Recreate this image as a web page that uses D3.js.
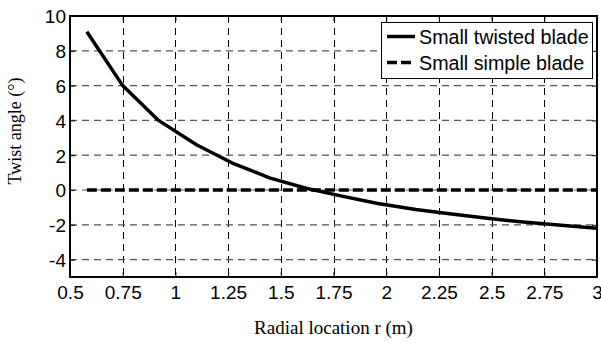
<!DOCTYPE html>
<html><head><meta charset="utf-8">
<script src="https://cdn.jsdelivr.net/npm/d3@7"></script>
<style>
html,body{margin:0;padding:0;background:#fff;}
svg{display:block;}
</style></head>
<body>
<script>
const radius = [0.58, 0.75, 0.92, 1.10, 1.27, 1.45, 1.62, 1.79, 1.96, 2.14, 2.31, 2.48, 2.65, 2.83, 3.0];
const twisted = [9.1, 6.0, 4.0, 2.6, 1.55, 0.68, 0.1, -0.35, -0.78, -1.12, -1.38, -1.63, -1.84, -2.02, -2.2];
const simple = [0, 0, 0, 0, 0, 0, 0, 0, 0, 0, 0, 0, 0, 0, 0];
const xTicks = [0.5, 0.75, 1, 1.25, 1.5, 1.75, 2, 2.25, 2.5, 2.75, 3];
const xTickLabels = ["0.5", "0.75", "1", "1.25", "1.5", "1.75", "2", "2.25", "2.5", "2.75", "3"];
const yTicks = [-4, -2, 0, 2, 4, 6, 8, 10];
const yTickLabels = ["-4", "-2", "0", "2", "4", "6", "8", "10"];
const seriesNames = ["Small twisted blade", "Small simple blade"];
const xLabel = "Radial location r (m)";
const yLabel = "Twist angle (°)";

const W = 601, H = 343;
const L = 70, R = 597, T = 16, B = 277;
const svg = d3.select("body").append("svg").attr("width", W).attr("height", H);
const x = d3.scaleLinear().domain([0.5, 3]).range([L, R]);
const y = d3.scaleLinear().domain([-5, 10]).range([B, T]);

const g = svg.append("g");
// grid
g.selectAll(".vg").data(xTicks.slice(1, -1)).enter().append("line")
  .attr("x1", d => Math.round(x(d)) + 0.5).attr("x2", d => Math.round(x(d)) + 0.5)
  .attr("y1", T).attr("y2", B)
  .attr("stroke", "#000").attr("stroke-width", 1).attr("stroke-dasharray", "7,5");
g.selectAll(".hg").data(yTicks.filter(d => d < 10)).enter().append("line")
  .attr("x1", L).attr("x2", R)
  .attr("y1", d => y(d)).attr("y2", d => y(d))
  .attr("stroke", "#555").attr("stroke-width", 1.2).attr("stroke-dasharray", "7,5");

// axes with inward ticks
const fontTick = "Liberation Sans, Arial, sans-serif";
const xb = svg.append("g").attr("transform", `translate(0,${B})`)
  .call(d3.axisBottom(x).tickValues(xTicks).tickSize(-5).tickPadding(9).tickFormat((d, i) => xTickLabels[i]));
const xt = svg.append("g").attr("transform", `translate(0,${T})`)
  .call(d3.axisTop(x).tickValues(xTicks).tickSize(-5).tickFormat(""));
const yl = svg.append("g").attr("transform", `translate(${L},0)`)
  .call(d3.axisLeft(y).tickValues(yTicks).tickSize(-5).tickPadding(4).tickFormat((d, i) => yTickLabels[i]));
const yr = svg.append("g").attr("transform", `translate(${R},0)`)
  .call(d3.axisRight(y).tickValues(yTicks).tickSize(-5).tickFormat(""));
[xb, xt, yl, yr].forEach(a => {
  a.select(".domain").remove();
  a.selectAll("line").attr("stroke", "#000");
  a.selectAll("text").attr("font-family", fontTick).attr("font-size", 19).attr("fill", "#000");
});
yl.selectAll("text").attr("dy", "0.36em");
svg.append("rect").attr("x", L).attr("y", T).attr("width", R - L).attr("height", B - T)
  .attr("fill", "none").attr("stroke", "#000").attr("stroke-width", 2);

// series
const line = d3.line().x(d => x(d[0])).y(d => y(d[1]));
svg.append("path").datum(radius.map((r, i) => [r, simple[i]]))
  .attr("d", line).attr("fill", "none").attr("stroke", "#000")
  .attr("stroke-width", 3.5).attr("stroke-dasharray", "10,4");
svg.append("path").datum(radius.map((r, i) => [r, twisted[i]]))
  .attr("d", line).attr("fill", "none").attr("stroke", "#000")
  .attr("stroke-width", 3.5).attr("stroke-linejoin", "round");

// legend
const lg = svg.append("g");
lg.append("rect").attr("x", 381.5).attr("y", 22.5).attr("width", 211).attr("height", 56)
  .attr("fill", "#fff").attr("stroke", "#000").attr("stroke-width", 1);
const rows = [36.5, 62.5];
const dashes = [null, "10,4"];
seriesNames.forEach((n, i) => {
  lg.append("line").attr("x1", 387).attr("x2", 415).attr("y1", rows[i]).attr("y2", rows[i])
    .attr("stroke", "#000").attr("stroke-width", 3.5).attr("stroke-dasharray", dashes[i]);
  lg.append("text").attr("x", 419).attr("y", rows[i]).attr("dy", "0.36em")
    .attr("font-family", fontTick).attr("font-size", 19.7).text(n);
});

// axis labels
svg.append("text").attr("x", (L + R) / 2).attr("y", 334).attr("text-anchor", "middle")
  .attr("font-family", "Liberation Serif, Times New Roman, serif").attr("font-size", 19).text(xLabel);
svg.append("text").attr("transform", "translate(21,131) rotate(-90)").attr("text-anchor", "middle")
  .attr("font-family", "Liberation Serif, Times New Roman, serif").attr("font-size", 18).text(yLabel);
</script>
</body></html>
